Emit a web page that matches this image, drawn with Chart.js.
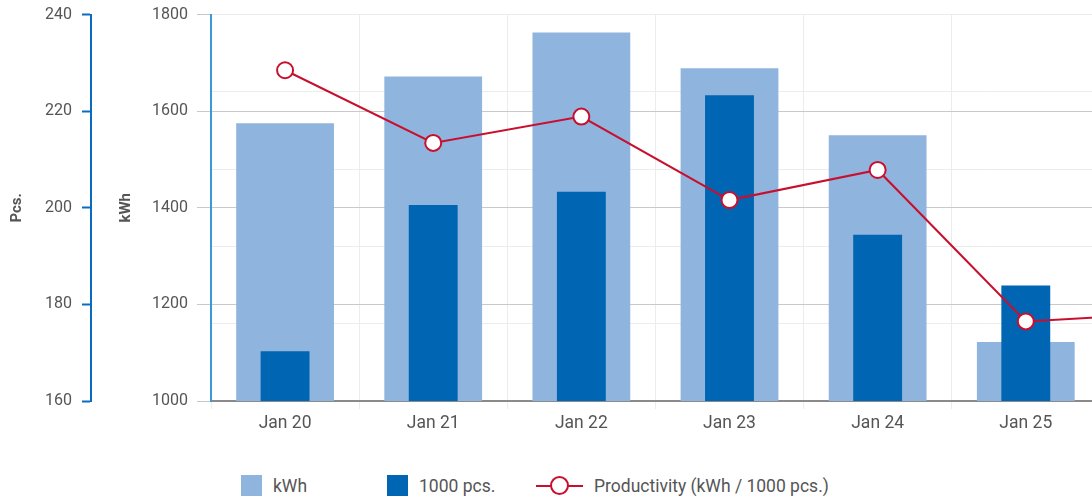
<!DOCTYPE html>
<html>
<head>
    <meta charset="utf-8">
    <title>Energy productivity</title>
    <script src="https://cdn.jsdelivr.net/npm/chart.js"></script>
    <style>
        html, body {
            margin: 0;
            padding: 0;
            background: #fff;
            font-family: Roboto, "Liberation Sans", sans-serif;
        }

        .frame {
            position: relative;
            width: 1092px;
            height: 503px;
            overflow: hidden;
        }

        .chart-box {
            position: absolute;
            left: 0;
            top: -5px;
            width: 1258px;
            height: 446px;
        }

        .legend {
            position: absolute;
            left: 241px;
            top: 475px;
            display: flex;
            align-items: center;
            font-size: 17.5px;
            color: #555;
        }

        .legend-item {
            display: flex;
            align-items: center;
        }

        .legend-swatch {
            width: 21px;
            height: 21px;
            margin-right: 11px;
        }

        .legend-line {
            position: relative;
            width: 47px;
            height: 21px;
            margin-right: 11px;
        }

        .legend-line .bar {
            position: absolute;
            left: 0;
            right: 0;
            top: 10px;
            height: 2px;
        }

        .legend-line .dot {
            position: absolute;
            left: 14px;
            top: 1px;
            width: 15px;
            height: 15px;
            border-radius: 50%;
            background: #fff;
            border: 2px solid;
        }
    </style>
</head>
<body>
    <div class="frame">
        <div class="chart-box">
            <canvas id="prodChart"></canvas>
        </div>
        <div class="legend" id="legend"></div>
    </div>

    <script>
        // 每日数据
        const days = ['Jan 20', 'Jan 21', 'Jan 22', 'Jan 23', 'Jan 24', 'Jan 25', 'Jan 26'];
        const kwh = [1575, 1672, 1763, 1689, 1550, 1122, null];
        const pcs = [170.3, 200.6, 203.3, 223.3, 194.4, 183.9, null];
        const productivity = [9.28, 8.34, 8.68, 7.60, 7.99, 6.03, 6.14];

        const kwhTicks = [1000, 1200, 1400, 1600, 1800];
        const pcsTicks = [160, 180, 200, 220, 240];

        const colors = {
            kwh: '#8fb4de',
            pcs: '#0066b3',
            prod: '#c8102e',
            text: '#555'
        };

        Chart.defaults.font.family = 'Roboto, "Liberation Sans", sans-serif';
        Chart.defaults.font.size = 16;
        Chart.defaults.color = colors.text;

        const plain = (v) => String(v);

        const ctx = document.getElementById('prodChart').getContext('2d');

        const chart = new Chart(ctx, {
            type: 'bar',
            data: {
                labels: days,
                datasets: [
                    {
                        label: 'kWh',
                        data: kwh,
                        yAxisID: 'yKwh',
                        backgroundColor: colors.kwh,
                        grouped: false,
                        categoryPercentage: 1,
                        barPercentage: 0.66,
                        order: 3
                    },
                    {
                        label: '1000 pcs.',
                        data: pcs,
                        yAxisID: 'yPcs',
                        backgroundColor: colors.pcs,
                        grouped: false,
                        categoryPercentage: 1,
                        barPercentage: 0.33,
                        order: 2
                    },
                    {
                        type: 'line',
                        label: 'Productivity (kWh / 1000 pcs.)',
                        data: productivity,
                        yAxisID: 'yProd',
                        borderColor: colors.prod,
                        borderWidth: 2,
                        pointRadius: 8,
                        pointBorderWidth: 2,
                        pointBackgroundColor: '#fff',
                        pointBorderColor: colors.prod,
                        tension: 0,
                        order: 1
                    }
                ]
            },
            options: {
                responsive: true,
                maintainAspectRatio: false,
                animation: false,
                layout: {
                    padding: { top: 8, right: 0, bottom: 3, left: 0 }
                },
                plugins: {
                    legend: { display: false },
                    tooltip: { enabled: false }
                },
                scales: {
                    x: {
                        offset: true,
                        grid: {
                            offset: true,
                            color: '#ececec',
                            lineWidth: 1,
                            tickLength: 8
                        },
                        border: { color: '#8a8a8a', width: 2 },
                        ticks: { padding: 4, color: colors.text, font: { size: 17.5 } }
                    },
                    yPcs: {
                        position: 'left',
                        weight: 2,
                        min: 160,
                        max: 240,
                        afterBuildTicks: (axis) => {
                            axis.ticks = pcsTicks.map(v => ({ value: v }));
                        },
                        afterFit: (axis) => { axis.width = 91; },
                        grid: {
                            drawOnChartArea: false,
                            tickLength: 9,
                            tickColor: '#0a6cc0',
                            tickWidth: 2
                        },
                        border: { color: '#0a6cc0', width: 2 },
                        ticks: { padding: 10, color: colors.text, callback: plain },
                        title: {
                            display: true,
                            text: 'Pcs.',
                            color: colors.text,
                            font: { size: 15, weight: 'bold' },
                            padding: { top: 8, bottom: 0 }
                        }
                    },
                    yKwh: {
                        position: 'left',
                        weight: 1,
                        min: 1000,
                        max: 1800,
                        afterBuildTicks: (axis) => {
                            axis.ticks = kwhTicks.map(v => ({ value: v }));
                        },
                        afterFit: (axis) => { axis.width = 120; },
                        grid: {
                            color: '#c9c9c9',
                            lineWidth: 1,
                            tickLength: 14
                        },
                        border: { color: '#3a9ad9', width: 2 },
                        ticks: { padding: 9, color: colors.text, callback: plain },
                        title: {
                            display: true,
                            text: 'kWh',
                            color: colors.text,
                            font: { size: 15, weight: 'bold' },
                            padding: { top: 26, bottom: 0 }
                        }
                    },
                    yProd: {
                        position: 'right',
                        min: 5,
                        max: 10,
                        afterFit: (axis) => { axis.width = 0; },
                        grid: {
                            color: '#ececec',
                            lineWidth: 1,
                            drawTicks: false
                        },
                        border: { display: false },
                        ticks: { display: false, stepSize: 1 }
                    }
                }
            }
        });

        // 图例
        const legend = document.getElementById('legend');
        const itemWidths = [146, 149, null];
        chart.data.datasets.forEach((ds, i) => {
            const item = document.createElement('div');
            item.className = 'legend-item';
            if (itemWidths[i]) item.style.width = itemWidths[i] + 'px';
            if (ds.type === 'line') {
                item.innerHTML = `<span class="legend-line"><span class="bar" style="background:${ds.borderColor}"></span><span class="dot" style="border-color:${ds.borderColor}"></span></span>`;
            } else {
                item.innerHTML = `<span class="legend-swatch" style="background:${ds.backgroundColor}"></span>`;
            }
            const text = document.createElement('span');
            text.textContent = ds.label;
            item.appendChild(text);
            legend.appendChild(item);
        });
    </script>
</body>
</html>
